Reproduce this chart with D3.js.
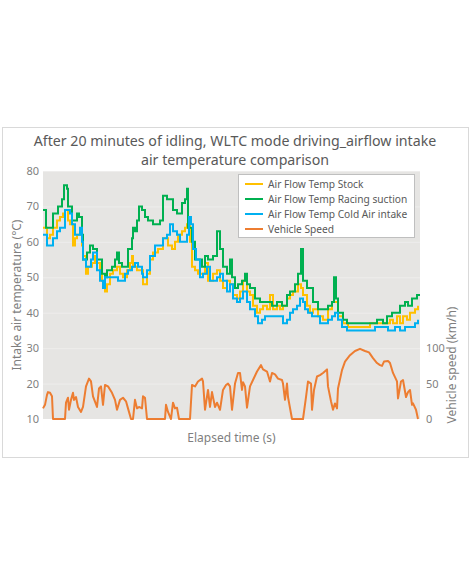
<!DOCTYPE html>
<html>
<head>
<meta charset="utf-8">
<script src="https://cdn.jsdelivr.net/npm/d3@7"></script>
<style>
  body { margin: 0; background: #fff; }
  svg text { font-family: "Noto Sans", "DejaVu Sans", sans-serif; }
</style>
</head>
<body>
<div class="chart"></div>
<script>
// elapsed time (s) / value pairs
const titleLines = ['After 20 minutes of idling, WLTC mode driving_airflow intake', 'air temperature comparison'];
const seriesNames = ['Air Flow Temp Stock', 'Air Flow Temp Racing suction', 'Air Flow Temp Cold Air intake', 'Vehicle Speed'];
const tempTicks = [10, 20, 30, 40, 50, 60, 70, 80];
const speedTicks = [0, 50, 100];

const stockTemp = [[0,64],[16,61],[28,62],[40,64],[56,66],[68,67],[80,68],[88,69],[100,66],[108,65],[120,59],[128,61],[136,62],[148,63],[156,59],[160,56],[172,51],[180,53],[196,54],[208,56],[216,54],[228,51],[236,49],[248,46],[256,48],[268,51],[280,52],[296,53],[308,51],[320,50],[336,52],[348,54],[356,56],[360,53],[376,52],[388,52],[400,48],[416,51],[428,55],[440,57],[460,58],[480,61],[496,61],[500,59],[516,58],[528,60],[540,62],[556,63],[568,64],[576,65],[588,60],[596,53],[608,52],[620,51],[636,51],[648,54],[660,49],[680,51],[696,52],[708,49],[720,47],[736,49],[748,48],[760,45],[776,44],[788,46],[800,49],[816,46],[828,45],[840,42],[856,40],[868,41],[880,42],[896,41],[908,45],[920,41],[936,42],[948,41],[960,42],[976,44],[988,45],[1000,46],[1016,46],[1020,48],[1032,47],[1040,45],[1056,42],[1068,40],[1080,41],[1100,39],[1120,38],[1140,41],[1156,43],[1168,43],[1180,39],[1200,37],[1220,36],[1308,37],[1328,37],[1360,37],[1388,38],[1400,37],[1416,39],[1428,37],[1440,39],[1456,38],[1468,40],[1488,41],[1500,42]];

const racingTemp = [[0,69],[12,64],[40,68],[60,70],[76,72],[84,76],[96,75],[100,70],[116,66],[136,68],[144,67],[156,62],[160,55],[176,57],[188,59],[200,58],[216,55],[228,55],[236,51],[248,50],[256,52],[276,53],[288,55],[296,57],[304,54],[316,53],[328,53],[340,58],[356,61],[360,64],[368,63],[376,66],[384,70],[396,69],[408,67],[420,66],[440,65],[468,66],[480,73],[496,72],[508,72],[520,69],[536,68],[556,71],[568,72],[576,75],[580,64],[596,60],[608,55],[620,55],[636,53],[648,56],[660,55],[680,56],[696,63],[708,58],[720,53],[736,51],[748,55],[756,50],[768,47],[780,48],[796,49],[808,51],[816,48],[828,47],[848,44],[868,43],[880,43],[900,43],[916,42],[936,43],[956,42],[976,45],[988,46],[1008,48],[1020,51],[1032,58],[1040,49],[1056,47],[1068,47],[1080,43],[1100,41],[1120,41],[1140,42],[1156,43],[1164,50],[1172,44],[1180,40],[1200,38],[1216,37],[1320,37],[1336,38],[1360,37],[1376,39],[1396,40],[1416,40],[1428,42],[1448,43],[1460,42],[1476,44],[1496,45],[1508,45]];

const coldAirTemp = [[0,62],[16,59],[28,59],[40,61],[56,63],[68,64],[80,64],[88,69],[100,69],[108,68],[116,65],[128,62],[140,62],[148,64],[156,60],[160,55],[172,53],[180,53],[192,55],[200,57],[216,52],[228,49],[240,47],[248,50],[260,50],[276,50],[288,50],[300,49],[316,49],[328,51],[340,52],[356,53],[368,54],[380,53],[396,51],[400,50],[416,52],[428,56],[448,59],[468,59],[480,61],[496,62],[508,65],[520,63],[536,62],[548,60],[560,60],[576,62],[584,67],[592,65],[600,58],[612,55],[628,50],[640,51],[656,53],[668,49],[680,49],[696,50],[708,51],[720,49],[736,46],[748,48],[760,44],[776,43],[788,44],[800,46],[816,43],[828,41],[848,39],[860,37],[876,38],[888,39],[900,39],[916,39],[936,39],[948,39],[960,37],[976,38],[988,40],[1000,41],[1016,42],[1028,44],[1040,43],[1048,41],[1060,40],[1076,39],[1088,39],[1108,37],[1120,37],[1140,38],[1156,39],[1168,40],[1180,38],[1196,36],[1216,35],[1268,35],[1308,35],[1328,36],[1356,36],[1380,35],[1408,36],[1428,35],[1448,36],[1468,36],[1488,37],[1500,38]];

const vehicleSpeed = [[0,15],[8,20],[16,34],[20,38],[28,37],[36,32],[40,0],[88,0],[92,23],[100,30],[104,13],[112,27],[120,37],[124,27],[132,31],[140,17],[152,10],[160,17],[172,46],[184,57],[192,53],[200,32],[216,17],[224,43],[232,46],[240,20],[248,48],[260,46],[276,37],[288,27],[296,13],[308,27],[320,30],[332,25],[340,15],[352,0],[360,0],[368,27],[376,15],[384,17],[396,15],[400,32],[408,30],[416,0],[488,0],[492,20],[500,10],[512,0],[520,23],[528,15],[536,16],[544,0],[588,0],[596,48],[608,46],[620,53],[636,57],[640,53],[648,13],[660,41],[668,17],[676,38],[688,17],[696,23],[708,13],[720,41],[732,48],[740,50],[748,46],[756,13],[768,50],[780,65],[788,65],[796,41],[800,52],[808,46],[816,16],[828,46],[840,55],[856,67],[872,76],[880,70],[896,67],[908,53],[916,65],[928,63],[940,57],[956,55],[960,50],[968,27],[976,50],[980,31],[996,0],[1040,0],[1052,31],[1060,53],[1072,50],[1076,13],[1084,41],[1096,60],[1108,62],[1120,65],[1136,70],[1140,46],[1152,25],[1160,13],[1168,22],[1176,15],[1180,43],[1196,69],[1208,81],[1228,90],[1248,96],[1268,99],[1288,96],[1304,94],[1320,86],[1336,79],[1348,76],[1356,75],[1364,81],[1380,82],[1388,79],[1400,65],[1416,53],[1420,29],[1432,53],[1440,55],[1452,31],[1460,38],[1468,41],[1476,20],[1480,22],[1492,13],[1500,0]];

const colors = ['#FFC000', '#00B050', '#00B0F0', '#ED7D31'];

const width = 470, height = 588;
const plot = { left: 43, right: 420, top: 171, bottom: 419 };

const svg = d3.select('div.chart').append('svg').attr('width', width).attr('height', height);

// chart frame
svg.append('rect')
    .attr('x', 2.5).attr('y', 127.5)
    .attr('width', 466).attr('height', 330)
    .attr('fill', '#fff').attr('stroke', '#d9d9d9');

svg.append('g').classed('title', true)
    .selectAll('text')
    .data(titleLines)
    .enter()
    .append('text')
    .attr('x', 235)
    .attr('y', (d, i) => 145.5 + i * 19.5)
    .attr('text-anchor', 'middle')
    .attr('font-size', 14.2)
    .attr('fill', '#595959')
    .text(d => d);

const x = d3.scaleLinear().domain([0, 1508]).range([plot.left, plot.right]);
const y = d3.scaleLinear().domain([10, 80]).range([plot.bottom, plot.top]);
const y2 = d3.scaleLinear().domain([0, 350]).range([plot.bottom, plot.top]);

svg.append('rect')
    .attr('x', plot.left).attr('y', plot.top)
    .attr('width', plot.right - plot.left).attr('height', plot.bottom - plot.top)
    .attr('fill', '#e6e5e3');

const yGrid = d3.axisLeft(y).tickValues(tempTicks.slice(1)).tickFormat('').tickSizeInner(-(plot.right - plot.left)).tickSizeOuter(0);
svg.append('g').classed('y-grid', true)
    .attr('transform', `translate(${plot.left},0)`)
    .call(yGrid)
    .call(g => g.select('.domain').remove())
    .call(g => g.selectAll('line').attr('stroke', '#eeedec').attr('stroke-width', 1));

const yAxis = d3.axisLeft(y).tickValues(tempTicks).tickSize(0).tickPadding(4);
svg.append('g').classed('y-axis', true)
    .attr('transform', `translate(${plot.left},0)`)
    .call(yAxis)
    .call(g => g.select('.domain').remove())
    .call(g => g.selectAll('text').attr('font-size', 11).attr('fill', '#7f7f7f').attr('font-family', '"Noto Sans", sans-serif'));

const yAxis2 = d3.axisRight(y2).tickValues(speedTicks).tickSize(0).tickPadding(6);
svg.append('g').classed('y-axis2', true)
    .attr('transform', `translate(${plot.right},0)`)
    .call(yAxis2)
    .call(g => g.select('.domain').remove())
    .call(g => g.selectAll('text').attr('font-size', 11).attr('fill', '#7f7f7f').attr('font-family', '"Noto Sans", sans-serif'));

svg.append('text')
    .attr('transform', `translate(21, ${(plot.top + plot.bottom) / 2}) rotate(-90)`)
    .attr('text-anchor', 'middle')
    .attr('font-size', 12)
    .attr('fill', '#7f7f7f')
    .text('Intake air temperature (°C)');

svg.append('text')
    .attr('transform', `translate(456, 365) rotate(-90)`)
    .attr('text-anchor', 'middle')
    .attr('font-size', 12)
    .attr('fill', '#7f7f7f')
    .text('Vehicle speed (km/h)');

svg.append('text')
    .attr('x', (plot.left + plot.right) / 2)
    .attr('y', 442)
    .attr('text-anchor', 'middle')
    .attr('font-size', 12)
    .attr('fill', '#7f7f7f')
    .text('Elapsed time (s)');

const tempLine = d3.line().x(d => x(d[0])).y(d => y(d[1])).curve(d3.curveStepAfter);
const speedLine = d3.line().x(d => x(d[0])).y(d => y2(d[1]));

const lines = svg.append('g').classed('lines', true);
lines.append('path').datum(vehicleSpeed).attr('d', speedLine)
    .attr('fill', 'none').attr('stroke', colors[3]).attr('stroke-width', 2).attr('stroke-linejoin', 'round');
[stockTemp, racingTemp, coldAirTemp].forEach((s, i) => {
    lines.append('path').datum(s).attr('d', tempLine)
        .attr('fill', 'none').attr('stroke', colors[i]).attr('stroke-width', 2);
});

// legend
const legend = svg.append('g').classed('legend', true).attr('transform', 'translate(238,174)');
legend.append('rect')
    .attr('x', 0.5).attr('y', 0.5).attr('width', 176).attr('height', 63)
    .attr('fill', '#fff').attr('stroke', '#bfbfbf');
const items = legend.selectAll('g.item')
    .data(seriesNames)
    .enter()
    .append('g')
    .classed('item', true)
    .attr('transform', (d, i) => `translate(0, ${10 + i * 15})`);
items.append('line')
    .attr('x1', 7).attr('x2', 25)
    .attr('stroke', (d, i) => colors[i]).attr('stroke-width', 2);
items.append('text')
    .attr('x', 30).attr('y', 3.5)
    .attr('font-size', 10.2)
    .attr('fill', '#595959')
    .text(d => d);
</script>
</body>
</html>
